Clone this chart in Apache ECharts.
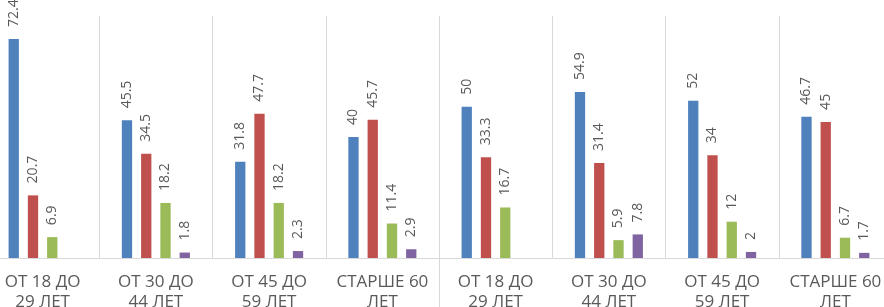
<!DOCTYPE html>
<html>
<head>
<meta charset="utf-8">
<script src="https://cdn.jsdelivr.net/npm/echarts@6/dist/echarts.min.js"></script>
<style>html,body{margin:0;padding:0;background:#fff;}#c{width:884px;height:307px;}</style>
</head>
<body>
<div id="c"></div>
<script>
const categories = ['ОТ 18 ДО\n29 ЛЕТ', 'ОТ 30 ДО\n44 ЛЕТ', 'ОТ 45 ДО\n59 ЛЕТ', 'СТАРШЕ 60\nЛЕТ',
                    'ОТ 18 ДО\n29 ЛЕТ', 'ОТ 30 ДО\n44 ЛЕТ', 'ОТ 45 ДО\n59 ЛЕТ', 'СТАРШЕ 60\nЛЕТ'];
const outerGroups = ['A', 'B'];
const seriesBlue = [72.4, 45.5, 31.8, 40, 50, 54.9, 52, 46.7];
const seriesRed = [20.7, 34.5, 47.7, 45.7, 33.3, 31.4, 34, 45];
const seriesGreen = [6.9, 18.2, 18.2, 11.4, 16.7, 5.9, 12, 6.7];
const seriesPurple = [null, 1.8, 2.3, 2.9, null, 7.8, 2, 1.7];

const colors = ['#4F81BD', '#C0504D', '#9BBB59', '#8064A2'];
const labelStyle = {
  show: true, position: 'top', rotate: 90, align: 'left', verticalAlign: 'middle',
  distance: 12, color: '#595959', fontSize: 14, fontFamily: 'Open Sans'
};
function mk(data, i) {
  return {
    type: 'bar', data: data, barWidth: 10.3, barGap: '87%',
    itemStyle: { color: colors[i] }, label: labelStyle, xAxisIndex: 0
  };
}
const chart = echarts.init(document.getElementById('c'));
chart.setOption({
  animation: false,
  grid: { left: -14, right: -8, top: 16, bottom: 49, containLabel: false, outerBoundsMode: 'none' },
  xAxis: [{
    type: 'category', data: categories,
    axisLine: { show: true, lineStyle: { color: '#d9d9d9', width: 1 } },
    axisTick: { show: false },
    splitLine: { show: true, interval: 0, lineStyle: { color: '#d9d9d9', width: 1 } },
    axisLabel: { interval: 0, color: '#595959', fontSize: 17, lineHeight: 20, margin: 14, fontFamily: 'Open Sans' }
  }, {
    type: 'category', data: outerGroups, position: 'bottom',
    axisLine: { show: false }, axisLabel: { show: false },
    axisTick: { show: true, interval: 0, length: 60, lineStyle: { color: '#d9d9d9' } },
    splitLine: { show: false }
  }],
  yAxis: { type: 'value', min: 0, max: 80, show: false, splitLine: { show: false } },
  series: [mk(seriesBlue, 0), mk(seriesRed, 1), mk(seriesGreen, 2), mk(seriesPurple, 3)]
});
</script>
</body>
</html>
